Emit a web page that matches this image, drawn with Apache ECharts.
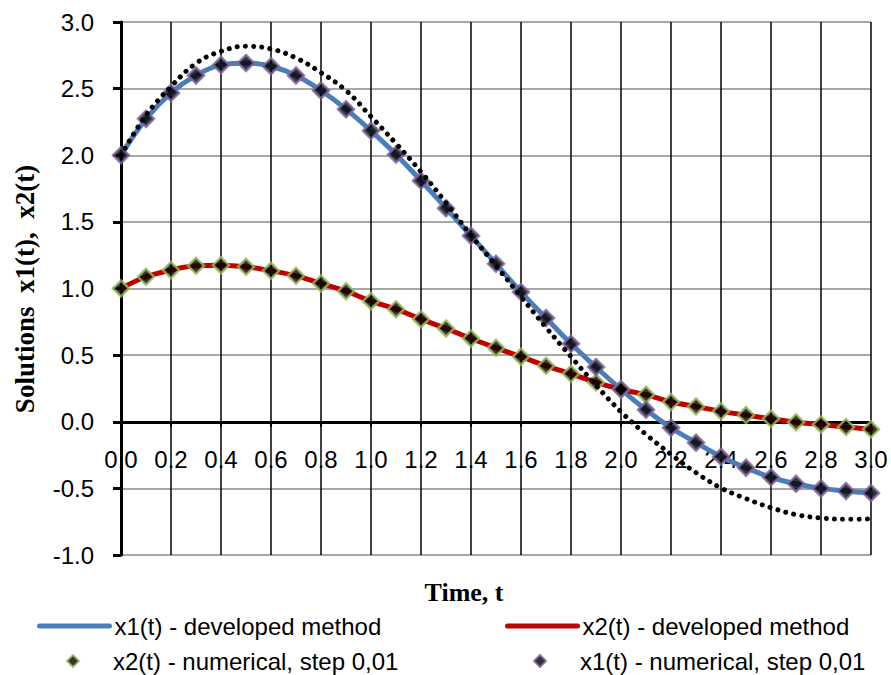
<!DOCTYPE html>
<html>
<head>
<meta charset="utf-8">
<script src="https://cdn.jsdelivr.net/npm/echarts@6/dist/echarts.min.js"></script>
<style>
  html, body { margin: 0; padding: 0; background: #fff; }
  #chart { width: 891px; height: 675px; }
</style>
</head>
<body>
<div id="chart"></div>
<script>
const times = [0.0, 0.1, 0.2, 0.3, 0.4, 0.5, 0.6, 0.7, 0.8, 0.9, 1.0,
               1.1, 1.2, 1.3, 1.4, 1.5, 1.6, 1.7, 1.8, 1.9, 2.0,
               2.1, 2.2, 2.3, 2.4, 2.5, 2.6, 2.7, 2.8, 2.9, 3.0];

const x1Values = [2.000, 2.273, 2.468, 2.599, 2.678, 2.693, 2.668, 2.599, 2.486, 2.346, 2.183,
                  2.006, 1.808, 1.603, 1.395, 1.185, 0.973, 0.778, 0.585, 0.410, 0.243,
                  0.090, -0.045, -0.157, -0.262, -0.345, -0.417, -0.465, -0.500, -0.520, -0.535];

const x2Values = [1.000, 1.088, 1.138, 1.170, 1.175, 1.163, 1.133, 1.095, 1.038, 0.980, 0.905,
                  0.845, 0.770, 0.700, 0.625, 0.555, 0.488, 0.420, 0.360, 0.295, 0.243,
                  0.203, 0.148, 0.115, 0.078, 0.050, 0.023, -0.003, -0.020, -0.040, -0.057];

const dottedValues = [2.000, 2.300, 2.515, 2.690, 2.780, 2.818, 2.798, 2.730, 2.620, 2.486, 2.290,
                      2.088, 1.876, 1.643, 1.400, 1.170, 0.938, 0.708, 0.488, 0.273, 0.075,
                      -0.095, -0.245, -0.382, -0.497, -0.577, -0.645, -0.697, -0.722, -0.732, -0.730];

const seriesNames = {
  x1Dev: 'x1(t) - developed method',
  x2Dev: 'x2(t) - developed method',
  x2Num: 'x2(t) - numerical, step 0,01',
  x1Num: 'x1(t) - numerical, step 0,01'
};

const yTitle = 'Solutions  x1(t),  x2(t)';
const xTitle = 'Time, t';

const Y_MIN = -1, Y_MAX = 3;

function pairs(vals) { return times.map((t, i) => [t, vals[i]]); }

const SANS = '"Liberation Sans", Arial, sans-serif';
const SERIF = '"Liberation Serif", "Times New Roman", serif';
const DIAMOND = 'path://M0,-1L1,0L0,1L-1,0Z';

const GRID = { left: 121, right: 20, top: 22, bottom: 120 };
const plotH = 675 - GRID.top - GRID.bottom;
// shift the x axis (line, ticks, labels) up from the bottom edge to the y = 0 level
const zeroOffset = -plotH * (0 - Y_MIN) / (Y_MAX - Y_MIN);

const chart = echarts.init(document.getElementById('chart'), null, { renderer: 'svg' });

function lineLegend(name, left, top) {
  return {
    data: [name], left: left, top: top, padding: 0,
    itemWidth: 70, itemHeight: 13,
    itemStyle: { opacity: 0 },
    lineStyle: { width: 5, cap: 'round' },
    textStyle: { fontFamily: SANS, fontSize: 24, color: '#000' },
    selectedMode: false
  };
}
function markerLegend(name, left, top) {
  return {
    data: [{ name: name, icon: DIAMOND }], left: left, top: top, padding: 0,
    itemWidth: 70, itemHeight: 12, symbolKeepAspect: true,
    itemStyle: { borderWidth: 2 },
    textStyle: { fontFamily: SANS, fontSize: 24, color: '#000' },
    selectedMode: false
  };
}

chart.setOption({
  animation: false,
  backgroundColor: '#fff',
  grid: Object.assign({ containLabel: false }, GRID),
  legend: [
    lineLegend(seriesNames.x1Dev, 37, 614),
    lineLegend(seriesNames.x2Dev, 505, 614),
    markerLegend(seriesNames.x2Num, 66, 649),
    markerLegend(seriesNames.x1Num, 533, 649)
  ],
  xAxis: {
    type: 'value', min: 0, max: 3, interval: 0.2,
    position: 'bottom', offset: zeroOffset,
    axisLine: { show: true, onZero: false, lineStyle: { color: '#000', width: 3 } },
    axisTick: { show: true, inside: false, length: 5, lineStyle: { color: '#000', width: 2 } },
    axisLabel: { margin: 26, fontFamily: SANS, fontSize: 24, color: '#000',
                 formatter: v => v.toFixed(1) },
    splitLine: { show: true, lineStyle: { color: '#000', width: 1.5 } }
  },
  yAxis: {
    type: 'value', min: Y_MIN, max: Y_MAX, interval: 0.5,
    axisLine: { show: true, onZero: false, lineStyle: { color: '#000', width: 3 } },
    axisTick: { show: true, inside: false, length: 8, lineStyle: { color: '#000', width: 3 } },
    axisLabel: { margin: 27, fontFamily: SANS, fontSize: 24, color: '#000',
                 formatter: v => v.toFixed(1) },
    splitLine: { show: true, lineStyle: { color: '#8a8a8a', width: 1.5 } }
  },
  graphic: [
    { type: 'text', x: 25, y: 289, rotation: Math.PI / 2,
      style: { text: yTitle, font: 'bold 27px ' + SERIF, fill: '#000',
               textAlign: 'center', textVerticalAlign: 'middle' } },
    { type: 'text', x: 464, y: 592,
      style: { text: xTitle, font: 'bold 26px ' + SERIF, fill: '#000',
               textAlign: 'center', textVerticalAlign: 'middle' } }
  ],
  series: [
    { name: seriesNames.x1Dev, type: 'line', data: pairs(x1Values), smooth: 0.4,
      symbol: 'none', z: 3, color: '#4A7EBB',
      lineStyle: { color: '#4A7EBB', width: 5, cap: 'round' } },
    { name: seriesNames.x2Dev, type: 'line', data: pairs(x2Values), smooth: 0.4,
      symbol: 'none', z: 3, color: '#C00000',
      lineStyle: { color: '#C00000', width: 5, cap: 'round' } },
    { name: seriesNames.x2Num, type: 'scatter', data: pairs(x2Values),
      symbol: 'diamond', symbolSize: 16, z: 4,
      itemStyle: { color: '#000', borderColor: '#9BBB59', borderWidth: 2.5 } },
    { name: seriesNames.x1Num, type: 'scatter', data: pairs(x1Values),
      symbol: 'diamond', symbolSize: 16, z: 5,
      itemStyle: { color: '#000', borderColor: '#8064A2', borderWidth: 2.5 } },
    { name: 'dotted', type: 'line', data: pairs(dottedValues), smooth: 0.4,
      symbol: 'none', z: 6, silent: true,
      lineStyle: { color: '#000', width: 5, type: [0.01, 8.2], cap: 'round' } }
  ]
});
</script>
</body>
</html>
